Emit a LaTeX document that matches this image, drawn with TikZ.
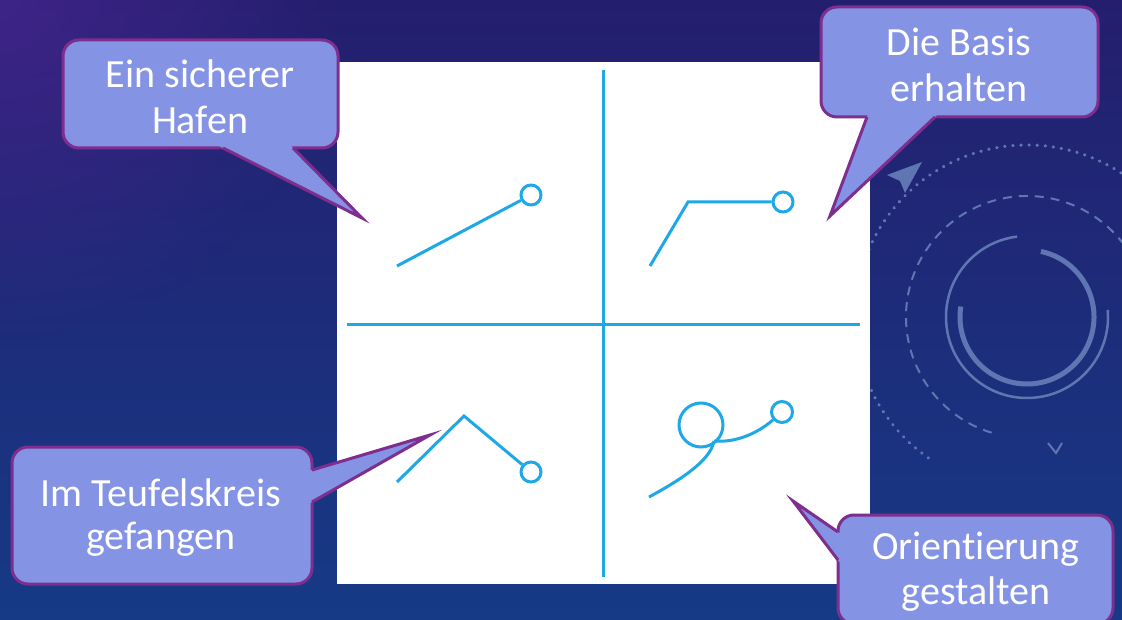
\documentclass[tikz,border=0pt]{standalone}
\usepackage{fontspec}
\setmainfont[Ligatures={NoCommon}]{Carlito}
\usetikzlibrary{calc,fadings}
\definecolor{bgtop}{RGB}{36,30,110}
\definecolor{bgbot}{RGB}{22,58,134}
\definecolor{bgglow}{RGB}{72,38,145}
\definecolor{bubfill}{RGB}{132,147,227}
\definecolor{bubline}{RGB}{126,46,143}
\definecolor{figblue}{RGB}{31,168,230}
\definecolor{decocol}{RGB}{95,118,178}
\tikzfading[name=glowfade, inner color=transparent!0, outer color=transparent!100]
\tikzset{
  bubble/.style={fill=bubfill, draw=bubline, line width=3pt, rounded corners=16pt},
  bubedge/.style={draw=bubline, line width=3pt, line join=miter},
  lbl/.style={text=white, font=\fontsize{40}{46}\selectfont, align=center, inner sep=0pt},
  fig/.style={draw=figblue, line width=3pt},
  deco/.style={draw=decocol}
}
\begin{document}
\begin{tikzpicture}[x=1pt,y=-1pt]
\useasboundingbox (0,0) rectangle (1122,620);
% background
\shade[top color=bgtop, bottom color=bgbot] (0,0) rectangle (1122,620);
\fill[bgglow, opacity=0.7, path fading=glowfade] (0,0) circle (340);
% decorations
\coordinate (dc) at (1027,317);
\draw[deco, line width=5pt] ($(dc)+(189:67)$) arc[start angle=189, end angle=-78, radius=67];
\draw[deco, line width=2.5pt] ($(dc)+(-5:81)$) arc[start angle=-5, end angle=263, radius=81];
\draw[deco, line width=2pt, dash pattern=on 9pt off 7pt] ($(dc)+(107:121)$) arc[start angle=107, end angle=380, radius=121];
\draw[deco, line width=3.5pt, dash pattern=on 0.1pt off 8pt, line cap=round] ($(dc)+(125:172)$) arc[start angle=125, end angle=345, radius=172];
\fill[decocol] (922,162) -- (887,175) -- (900,181) -- (905,193) -- cycle;
\draw[deco, line width=2pt] (1048,443) -- (1056,453) -- (1062,443);
% white panel
\fill[white] (337,62) rectangle (870,584);
% axes
\coordinate (vt) at (603,70); \coordinate (vb) at (603,577);
\coordinate (hl) at (347,325); \coordinate (hr) at (860,325);
\draw[fig] (vt) -- (vb);
\draw[fig] (hl) -- (hr);
% Q1
\node[fig, circle, minimum size=20pt, inner sep=0pt] (q1c) at (531,195) {};
\coordinate (q1s) at (397,266);
\draw[fig] (q1s) -- (q1c);
% Q2
\node[fig, circle, minimum size=20pt, inner sep=0pt] (q2c) at (783,202) {};
\coordinate (q2s) at (650,266); \coordinate (q2k) at (688,202);
\draw[fig, line join=miter] (q2s) -- (q2k) -- (q2c.west);
% Q3
\node[fig, circle, minimum size=20pt, inner sep=0pt] (q3c) at (531,472) {};
\coordinate (q3s) at (397,482); \coordinate (q3k) at (464,416);
\draw[fig, line join=miter] (q3s) -- (q3k) -- (q3c);
% Q4
\node[fig, circle, minimum size=44pt, inner sep=0pt] (q4b) at (701,425) {};
\node[fig, circle, minimum size=21pt, inner sep=0pt] (q4c) at (782,412) {};
\coordinate (q4s) at (649,497); \coordinate (q4k) at (714,441);
\draw[fig] (q4s) .. controls (688,476) and (711,458) .. (q4k);
\draw[fig] (q4k) .. controls (736,443) and (758,433) .. (q4c);
% callout 1
\coordinate (c1a) at (223,148); \coordinate (c1b) at (293,148); \coordinate (c1t) at (362,218);
\path[bubble] (63,40) rectangle (338,148);
\fill[bubfill] ($(c1a)!-6pt!(c1t)$) -- (c1t) -- ($(c1b)!-6pt!(c1t)$) -- cycle;
\draw[bubedge] (c1a) -- (c1t) -- (c1b);
\node[lbl] (t1) at (200,97) {Ein sicherer\\Hafen};
% callout 2
\coordinate (c2a) at (867,117); \coordinate (c2b) at (935,117); \coordinate (c2t) at (830,216);
\path[bubble] (821,7) rectangle (1098,117);
\fill[bubfill] ($(c2a)!-6pt!(c2t)$) -- (c2t) -- ($(c2b)!-6pt!(c2t)$) -- cycle;
\draw[bubedge] (c2a) -- (c2t) -- (c2b);
\node[lbl] (t2) at (959,65) {Die Basis\\erhalten};
% callout 3
\coordinate (c3a) at (312,470); \coordinate (c3b) at (312,502); \coordinate (c3t) at (430,435);
\path[bubble] (12,447) rectangle (312,584);
\fill[bubfill] ($(c3a)!-6pt!(c3t)$) -- (c3t) -- ($(c3b)!-6pt!(c3t)$) -- cycle;
\draw[bubedge] (c3a) -- (c3t) -- (c3b);
\node[lbl, font=\fontsize{40}{43}\selectfont] (t3) at (161,518) {Im Teufelskreis\\gefangen};
% callout 4
\coordinate (c4a) at (838,532); \coordinate (c4b) at (838,560); \coordinate (c4t) at (793,501);
\path[bubble] (838,515) rectangle (1113,624);
\fill[bubfill] ($(c4a)!-6pt!(c4t)$) -- (c4t) -- ($(c4b)!-6pt!(c4t)$) -- cycle;
\draw[bubedge] (c4a) -- (c4t) -- (c4b);
\node[lbl, font=\fontsize{40}{45}\selectfont] (t4) at (976,572) {Orientierung\\gestalten};
\end{tikzpicture}
\end{document}
